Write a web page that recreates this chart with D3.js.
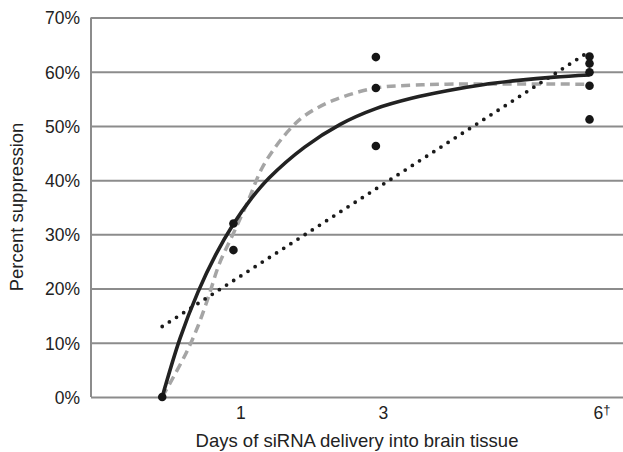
<!DOCTYPE html>
<html>
<head>
<meta charset="utf-8">
<script src="https://cdn.jsdelivr.net/npm/d3@7"></script>
<style>
  html, body { margin: 0; padding: 0; background: #fff; }
  svg { display: block; font-family: "Liberation Sans", Arial, sans-serif; }
</style>
</head>
<body>
<svg id="chart" width="623" height="452"></svg>
<script>
// Observed suppression per animal, by days of siRNA delivery
const obsDays = [0, 1, 1, 3, 3, 3, 6, 6, 6, 6, 6];
const obsSuppression = [0, 0.320, 0.271, 0.627, 0.570, 0.463, 0.628, 0.615, 0.599, 0.574, 0.512];

// Fitted trend lines (day, suppression)
const solidDays   = [0, 0.25, 0.5, 0.75, 1, 1.25, 1.5, 2, 2.5, 3, 3.5, 4, 4.5, 5, 5.5, 6];
const solidValues = [0, 0.108, 0.193, 0.262, 0.319, 0.366, 0.404, 0.461, 0.503, 0.532, 0.551, 0.565, 0.576, 0.584, 0.590, 0.594];

const dashedDays   = [0, 0.15, 0.35, 0.5, 0.65, 0.8, 1.0, 1.2, 1.4, 1.6, 1.8, 2.0, 2.4, 3.0, 3.5, 4.0, 6.0];
const dashedValues = [0, 0.035, 0.085, 0.13, 0.185, 0.245, 0.302, 0.36, 0.422, 0.463, 0.495, 0.519, 0.547, 0.570, 0.575, 0.577, 0.577];

const dottedDays   = [0, 5.97];
const dottedValues = [0.13, 0.635];

// Axes
const xTickDays = [1, 3, 6];
const xTickLabels = ["1", "3", "6"];
const yTicks = [0, 0.1, 0.2, 0.3, 0.4, 0.5, 0.6, 0.7];

const svg = d3.select("#chart");
const x = d3.scaleLinear().domain([-1, 6.47]).range([91, 623]);
const y = d3.scaleLinear().domain([0, 0.7]).range([397, 17.5]);

const gridColor = "#8c8c8c";
const textColor = "#222";

// Horizontal gridlines with percent labels
const yAxis = d3.axisLeft(y)
  .tickValues(yTicks)
  .tickFormat(d3.format(".0%"))
  .tickSize(-(623 - 91))
  .tickPadding(11);
const gy = svg.append("g").attr("transform", "translate(91,0)").call(yAxis);
gy.select(".domain").remove();
gy.selectAll(".tick line").attr("stroke", gridColor).attr("stroke-width", 2);
gy.selectAll(".tick text")
  .attr("fill", textColor)
  .style("font-size", "17.5px")
  .attr("dy", "0.36em");

// Left axis line
svg.append("line")
  .attr("x1", 91).attr("x2", 91)
  .attr("y1", y(0.7)).attr("y2", y(0))
  .attr("stroke", gridColor).attr("stroke-width", 2);

// Day labels under the axis
const xAxis = d3.axisBottom(x)
  .tickValues(xTickDays)
  .tickFormat((d, i) => xTickLabels[i])
  .tickSize(0)
  .tickPadding(10);
const gx = svg.append("g").attr("transform", `translate(0,${y(0)})`).call(xAxis);
gx.select(".domain").remove();
gx.selectAll(".tick text")
  .attr("fill", textColor)
  .style("font-size", "17.5px")
  .attr("dx", 7);
gx.selectAll(".tick text").filter(d => d === 6)
  .attr("dx", 12)
  .append("tspan")
  .attr("dy", "-0.45em")
  .style("font-size", "13px")
  .text("\u2020");

const line = d3.line()
  .x(d => x(d[0]))
  .y(d => y(d[1]))
  .curve(d3.curveCatmullRom.alpha(0.5));

// Dashed gray trend
svg.append("path")
  .datum(dashedDays.map((d, i) => [d, dashedValues[i]]))
  .attr("d", line)
  .attr("fill", "none")
  .attr("stroke", "#a5a5a5")
  .attr("stroke-width", 3.5)
  .attr("stroke-dasharray", "9,5.5");

// Dotted linear trend
svg.append("path")
  .datum(dottedDays.map((d, i) => [d, dottedValues[i]]))
  .attr("d", d3.line().x(d => x(d[0])).y(d => y(d[1])))
  .attr("fill", "none")
  .attr("stroke", "#1a1a1a")
  .attr("stroke-width", 3.8)
  .attr("stroke-linecap", "round")
  .attr("stroke-dasharray", "0,8.5");

// Solid black trend
svg.append("path")
  .datum(solidDays.map((d, i) => [d, solidValues[i]]))
  .attr("d", line)
  .attr("fill", "none")
  .attr("stroke", "#222")
  .attr("stroke-width", 3.6);

// Observations
svg.append("g")
  .selectAll("circle")
  .data(obsDays.map((d, i) => [d, obsSuppression[i]]))
  .join("circle")
  .attr("cx", d => x(d[0]))
  .attr("cy", d => y(d[1]))
  .attr("r", 4.3)
  .attr("fill", "#161616");

// Axis titles
svg.append("text")
  .attr("x", 357)
  .attr("y", 447)
  .attr("text-anchor", "middle")
  .attr("fill", textColor)
  .style("font-size", "18.5px")
  .text("Days of siRNA delivery into brain tissue");

svg.append("text")
  .attr("transform", "translate(23,207) rotate(-90)")
  .attr("text-anchor", "middle")
  .attr("fill", textColor)
  .style("font-size", "18.5px")
  .text("Percent suppression");
</script>
</body>
</html>
